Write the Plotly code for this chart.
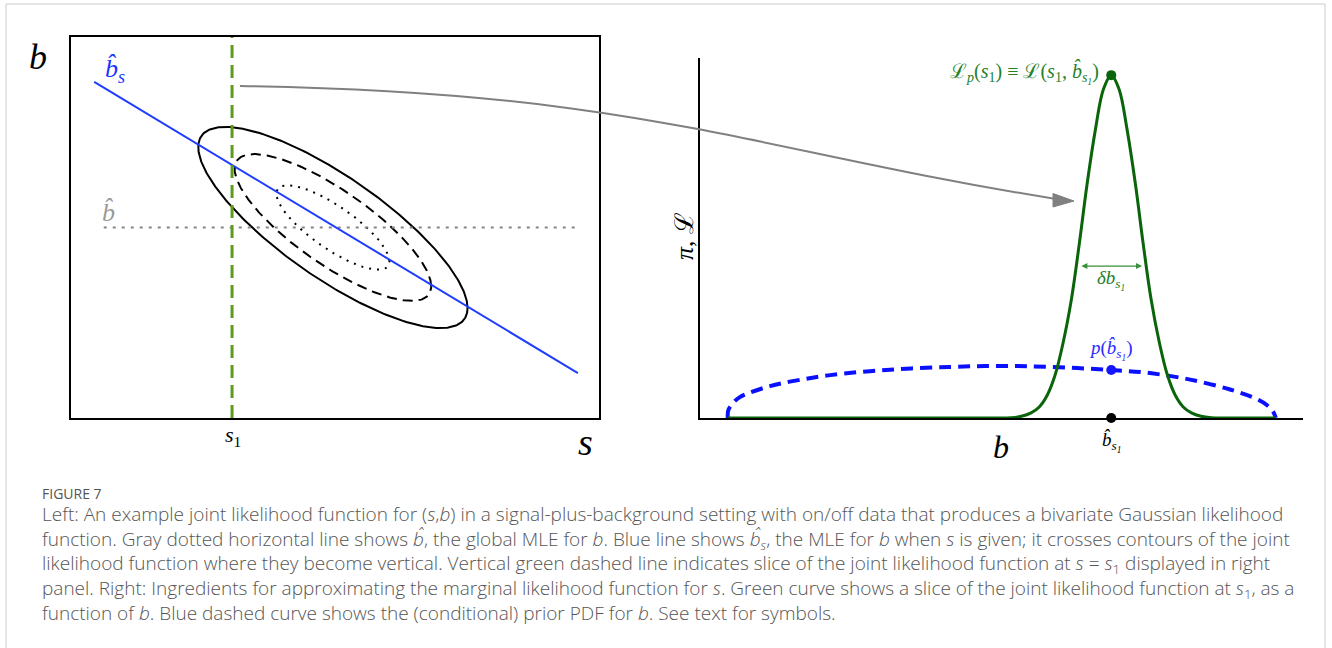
import numpy as np
import plotly.graph_objects as go

W, H = 1332, 648

# ---------------- data ----------------
# left panel: joint likelihood contours in (s, b)
ell_center = [4.96, 5.0]          # (s, b) of the global MLE
ell_sd = [2.55, 2.64]             # extent of outer contour in s and b
ell_rho = -0.80                   # correlation of the contours
contour_scales = [1.0, 0.73, 0.42]
contour_dash = ["solid", "10px,6px", "2px,6px"]

bhat_s_line_s = [0.44, 9.60]      # blue line: conditional MLE of b
bhat_s_line_b = [8.82, 1.18]
bhat_global = 5.0                 # gray dotted: global MLE of b
bhat_global_span = [0.62, 9.55]
s1 = 3.05                         # green dashed slice

# right panel
b_peak = 6.82
prior_b = [0.46, 0.47, 0.55, 0.66, 0.83, 1.16, 1.49, 2.16, 3.15, 4.15, 4.98,
           5.80, 6.82, 7.46, 8.13, 8.79, 9.24, 9.40, 9.50, 9.55]
prior_p = [0.0, 0.023, 0.044, 0.061, 0.074, 0.093, 0.106, 0.125, 0.141, 0.149,
           0.152, 0.149, 0.140, 0.131, 0.112, 0.083, 0.055, 0.038, 0.020, 0.0]
like_b = [0.46, 3.0, 4.91, 5.16, 5.33, 5.49, 5.63, 5.76, 5.89, 6.02, 6.16, 6.29,
          6.42, 6.56, 6.69, 6.82, 6.95, 7.08, 7.22, 7.35, 7.48, 7.62, 7.75, 7.88,
          8.01, 8.15, 8.31, 8.48, 8.73, 9.55]
like_L = [0, 0, 0, 0.001, 0.005, 0.015, 0.033, 0.067, 0.126, 0.218, 0.347, 0.508,
          0.683, 0.844, 0.959, 1.0, 0.959, 0.844, 0.683, 0.508, 0.347, 0.218,
          0.126, 0.067, 0.033, 0.015, 0.005, 0.001, 0, 0]
prior_at_peak = 0.140
width_arrow = [6.30, 7.33, 0.443]  # delta b arrow: from, to, height

caption_lines = [
    "Left: An example joint likelihood function for (<i>s</i>,<i>b</i>) in a signal-plus-background setting with on/off data that produces a bivariate Gaussian likelihood",
    "function. Gray dotted horizontal line shows <i>b̂</i>, the global MLE for <i>b</i>. Blue line shows <i>b̂<sub>s</sub></i>, the MLE for <i>b</i> when <i>s</i> is given; it crosses contours of the joint",
    "likelihood function where they become vertical. Vertical green dashed line indicates slice of the joint likelihood function at <i>s</i> = <i>s</i><sub>1</sub> displayed in right",
    "panel. Right: Ingredients for approximating the marginal likelihood function for <i>s</i>. Green curve shows a slice of the joint likelihood function at <i>s</i><sub>1</sub>, as a",
    "function of <i>b</i>. Blue dashed curve shows the (conditional) prior PDF for <i>b</i>. See text for symbols.",
]

# ---------------- helpers ----------------
def px(x):
    return x / W

def py(y):
    return 1 - y / H

MATH = "Liberation Serif, DejaVu Serif, serif"
GREEN = "#0a650a"
GREEN_T = "#23812a"
BLUE = "#1f3dff"

fig = go.Figure()

# ---------------- left panel ----------------
t = np.linspace(0, 2 * np.pi, 361)
for k, dash in zip(contour_scales, contour_dash):
    s = ell_center[0] + k * ell_sd[0] * np.cos(t)
    b = ell_center[1] + k * ell_sd[1] * (ell_rho * np.cos(t) + np.sqrt(1 - ell_rho ** 2) * np.sin(t))
    fig.add_trace(go.Scatter(x=s, y=b, mode="lines", xaxis="x", yaxis="y",
                             line=dict(color="black", width=2, dash=dash), hoverinfo="skip"))

fig.add_trace(go.Scatter(x=bhat_global_span, y=[bhat_global] * 2, mode="lines",
                         line=dict(color="#858585", width=2, dash="3px,6px"), xaxis="x", yaxis="y"))
fig.add_trace(go.Scatter(x=bhat_s_line_s, y=bhat_s_line_b, mode="lines",
                         line=dict(color=BLUE, width=2), xaxis="x", yaxis="y"))
fig.add_trace(go.Scatter(x=[s1, s1], y=[0, 10], mode="lines",
                         line=dict(color="#5e9a1c", width=3, dash="13px,7px"), xaxis="x", yaxis="y"))

# ---------------- right panel ----------------
fig.add_trace(go.Scatter(x=prior_b, y=prior_p, mode="lines", xaxis="x2", yaxis="y2",
                         line=dict(color="#0a10ff", width=4, dash="12px,7px", shape="spline")))
fig.add_trace(go.Scatter(x=like_b, y=like_L, mode="lines", xaxis="x2", yaxis="y2",
                         line=dict(color=GREEN, width=3, shape="spline")))
fig.add_trace(go.Scatter(x=[b_peak], y=[1.0], mode="markers", xaxis="x2", yaxis="y2", cliponaxis=False,
                         marker=dict(color=GREEN, size=10)))
fig.add_trace(go.Scatter(x=[b_peak], y=[prior_at_peak], mode="markers", xaxis="x2", yaxis="y2", cliponaxis=False,
                         marker=dict(color="#1515ff", size=10)))
fig.add_trace(go.Scatter(x=[b_peak], y=[0], mode="markers", xaxis="x2", yaxis="y2", cliponaxis=False,
                         marker=dict(color="black", size=10)))

noax = dict(showgrid=False, zeroline=False, showticklabels=False, ticks="")
fig.update_layout(
    width=W, height=H, margin=dict(l=0, r=0, t=0, b=0),
    paper_bgcolor="white", plot_bgcolor="white", showlegend=False,
    xaxis=dict(domain=[px(71), px(599)], range=[0, 10], showline=True, mirror=True,
               linecolor="black", linewidth=2, anchor="y", **noax),
    yaxis=dict(domain=[py(418), py(37)], range=[0, 10], showline=True, mirror=True,
               linecolor="black", linewidth=2, anchor="x", **noax),
    xaxis2=dict(domain=[px(700), px(1303)], range=[0, 10], showline=True,
                linecolor="black", linewidth=2, anchor="y2", **noax),
    yaxis2=dict(domain=[py(418), py(58)], range=[0, 1.05], showline=True,
                linecolor="black", linewidth=2, anchor="x2", **noax),
)

# ---------------- shapes ----------------
shapes = [
    dict(type="rect", xref="paper", yref="paper", x0=px(6), x1=px(1325), y0=-0.2, y1=py(4),
         line=dict(color="#cccccc", width=1), layer="below"),
]
p0, p1, p2, p3 = (240, 86), (640, 92), (750, 150), (1056, 199)
path = "M {},{} C {},{} {},{} {},{}".format(px(p0[0]), py(p0[1]), px(p1[0]), py(p1[1]),
                                             px(p2[0]), py(p2[1]), px(p3[0]), py(p3[1]))
shapes.append(dict(type="path", xref="paper", yref="paper", path=path,
                   line=dict(color="#808080", width=2)))
head = "M {},{} L {},{} L {},{} Z".format(px(1053), py(193.5), px(1074), py(201), px(1053), py(207))
shapes.append(dict(type="path", xref="paper", yref="paper", path=head,
                   fillcolor="#808080", line=dict(color="#808080", width=1)))
fig.update_layout(shapes=shapes)

# ---------------- annotations ----------------
ann = []

def label(x, y, text, size, color="black", xanchor="center", angle=0, family=MATH):
    ann.append(dict(x=px(x), y=py(y), xref="paper", yref="paper", text=text, showarrow=False,
                    xanchor=xanchor, yanchor="middle", textangle=angle,
                    font=dict(family=family, size=size, color=color)))

label(38, 57, "<i>b</i>", 36)
label(115, 70, "<i>b̂<sub>s</sub></i>", 26, color="#1a35ff")
label(108, 212, "<i>b̂</i>", 26, color="#9a9a9a")
label(233, 436, "<i>s</i><sub>1</sub>", 22)
label(585, 442, "<i>s</i>", 38)
label(684, 236, "<i>π</i>, ℒ", 26, angle=-90)
label(1001, 447, "<i>b</i>", 32)
label(1111, 442, "<i>b̂<sub>s<sub>1</sub></sub></i>", 19)
label(1101, 73, "ℒ<sub><i>p</i></sub>(<i>s</i><sub>1</sub>) ≡ ℒ(<i>s</i><sub>1</sub>, <i>b̂<sub>s<sub>1</sub></sub></i>)",
      20, color=GREEN_T, xanchor="right")
label(1111, 280, "<i>δb<sub>s<sub>1</sub></sub></i>", 19, color=GREEN_T)
label(1111, 350, "<i>p</i>(<i>b̂<sub>s<sub>1</sub></sub></i>)", 19, color="#2a2aff")

# delta-b double arrow
ann.append(dict(x=width_arrow[1], y=width_arrow[2], ax=width_arrow[0], ay=width_arrow[2],
                xref="x2", yref="y2", axref="x2", ayref="y2", text="", showarrow=True,
                arrowside="end+start", arrowhead=2, arrowsize=1, arrowwidth=1.2,
                arrowcolor="#3a8f3a"))

# caption
ann.append(dict(x=px(40), y=py(493), xref="paper", yref="paper", text="FIGURE 7", showarrow=False,
                xanchor="left", yanchor="middle",
                font=dict(family="Open Sans", size=14, color="#555555")))
ann.append(dict(x=px(40), y=py(563.5), xref="paper", yref="paper", text="<br>".join(caption_lines),
                showarrow=False, xanchor="left", yanchor="middle", align="left",
                font=dict(family="Open Sans", size=19, color="#555555", weight=300)))

fig.update_layout(annotations=ann)
fig.write_html("out.html")
